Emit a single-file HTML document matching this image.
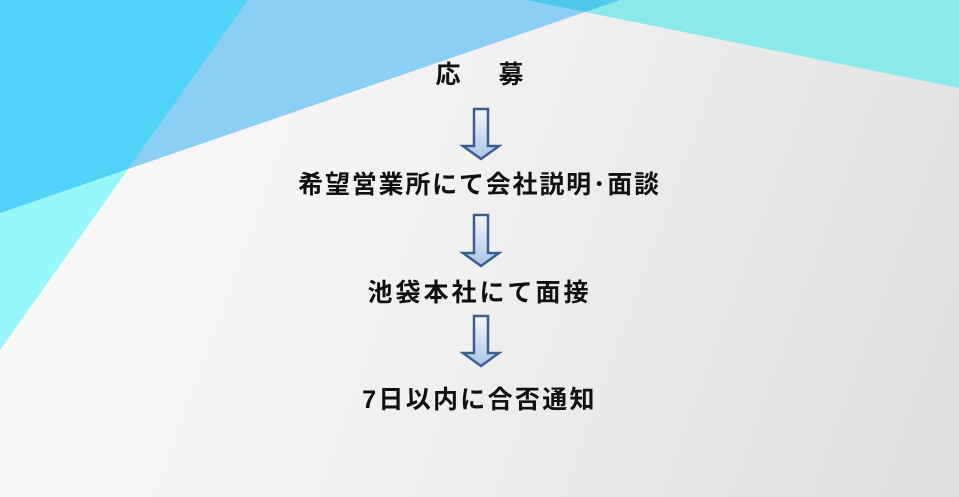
<!DOCTYPE html>
<html><head><meta charset="utf-8"><style>
html,body{margin:0;padding:0;}
body{width:959px;height:497px;overflow:hidden;position:relative;background:linear-gradient(110deg,#fbfbfb 0%,#f0f0f0 50%,#dedede 100%);font-family:"Liberation Sans","Noto Sans CJK JP",sans-serif;}
svg{position:absolute;left:0;top:0;}
.t{position:absolute;left:0;width:959px;text-align:center;font-weight:bold;font-size:25px;color:#111;white-space:nowrap;line-height:30px;}
</style></head><body>
<svg width="959" height="497">
<defs>
<linearGradient id="ag" x1="0" y1="0" x2="0" y2="1"><stop offset="0" stop-color="#f4f8fc"/><stop offset="1" stop-color="#a9c4e6"/></linearGradient>
</defs>
<polygon points="0,0 248,0 0,350" fill="#96f8fa"/>
<polygon points="0,0 620,0 0,213" fill="#8ccff5"/>
<polygon points="0,0 248,0 128,169 0,213" fill="#50d3f8"/>
<polygon points="526,0 959,0 959,88" fill="#8aeaea"/>
<polygon points="526,0 620,0 585,12" fill="#4ec8ec"/>
<g stroke="#3a5f8f" stroke-width="2.5" fill="url(#ag)" stroke-linejoin="miter">
<polygon points="474,109 488,109 488,146 499,146 481,159 463,146 474,146"/>
<polygon points="474,215 488,215 488,253 499,253 481,266 463,253 474,253"/>
<polygon points="474,316 488,316 488,353 499,353 481,366 463,353 474,353"/>
</g>
</svg>
<div class="t" style="top:60px;">応<span style="display:inline-block;width:38px"></span>募</div>
<div class="t" style="top:170px;letter-spacing:1.8px;">希望営業所にて会社説明･面談</div>
<div class="t" style="top:278px;letter-spacing:3px;">池袋本社にて面接</div>
<div class="t" style="top:385px;letter-spacing:2.3px;">7日以内に合否通知</div>
</body></html>
